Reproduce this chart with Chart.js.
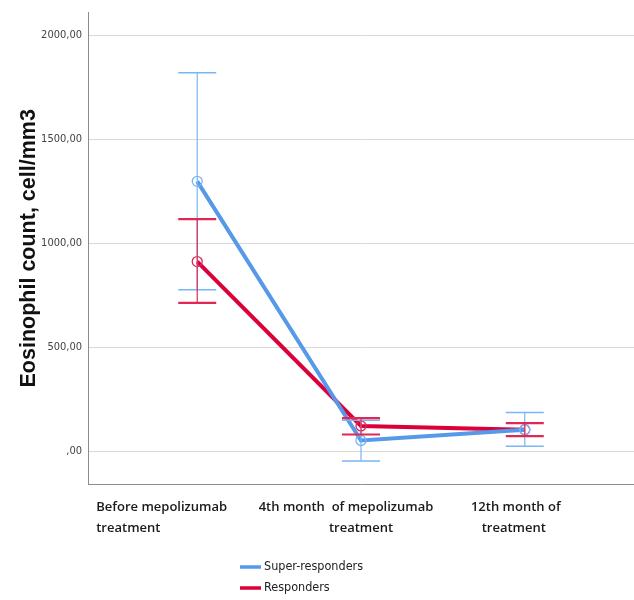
<!DOCTYPE html>
<html>
<head>
<meta charset="utf-8">
<script src="https://cdn.jsdelivr.net/npm/chart.js@4/dist/chart.umd.min.js"></script>
<style>
  html, body { margin: 0; padding: 0; background: #fff; }
  #wrap { position: relative; width: 634px; height: 600px; }
</style>
</head>
<body>
<div id="wrap"><canvas id="eosChart" width="634" height="600"></canvas></div>
<script>
// timepoints (x positions 0,1,2)
const timepoints = [
  ["Before mepolizumab", "treatment"],
  ["4th month  of mepolizumab", "treatment"],
  ["12th month of", "treatment"]
];

// super-responders: mean and error bar ends
const superMean = [1298, 52, 104];
const superHigh = [1820, 150, 187];
const superLow = [777, -47, 25];

// responders
const respMean = [912, 122, 104];
const respHigh = [1116, 160, 136];
const respLow = [714, 81, 73];

const yTicks = [0, 500, 1000, 1500, 2000];

const BLUE = "rgb(85,153,232)";
const BLUE_BAR = "rgb(120,182,245)";
const RED = "rgb(220,0,58)";
const RED_BAR = "rgb(225,40,85)";
const NARROW = "'DejaVu Sans Condensed', 'Liberation Sans Narrow', sans-serif";

function toPoints(arr) {
  return arr.map((v, i) => ({ x: i, y: v }));
}

// error bars with caps
const errorBars = {
  id: "errorBars",
  afterDatasetsDraw(chart) {
    const { ctx, scales: { x, y } } = chart;
    const sets = [
      { low: superLow, high: superHigh, color: BLUE_BAR, cap: 1.5 },
      { low: respLow, high: respHigh, color: RED_BAR, cap: 2.2 }
    ];
    ctx.save();
    sets.forEach(s => {
      ctx.strokeStyle = s.color;
      s.low.forEach((lo, i) => {
        const px = x.getPixelForValue(i);
        const yl = y.getPixelForValue(lo);
        const yh = y.getPixelForValue(s.high[i]);
        ctx.lineWidth = 1.2;
        ctx.beginPath();
        ctx.moveTo(px, yl);
        ctx.lineTo(px, yh);
        ctx.stroke();
        ctx.lineWidth = s.cap;
        ctx.beginPath();
        ctx.moveTo(px - 19, yl);
        ctx.lineTo(px + 19, yl);
        ctx.moveTo(px - 19, yh);
        ctx.lineTo(px + 19, yh);
        ctx.stroke();
      });
    });
    ctx.restore();
  }
};

// category labels under the plot, and stacked legend
const labelStyle = [
  { align: "left", dx: [-101, -101] },
  { align: "center", dx: [-15, 0] },
  { align: "center", dx: [-9, -11] }
];

const bottomText = {
  id: "bottomText",
  afterDraw(chart) {
    const { ctx, scales: { x }, chartArea } = chart;
    ctx.save();
    ctx.fillStyle = "#1a1a1a";
    ctx.font = "600 13px 'Open Sans', sans-serif";
    ctx.textBaseline = "middle";
    timepoints.forEach((lines, i) => {
      const px = x.getPixelForValue(i);
      lines.forEach((t, j) => {
        ctx.textAlign = labelStyle[i].align;
        ctx.fillText(t, px + labelStyle[i].dx[j], chartArea.bottom + 23 + j * 21);
      });
    });

    const items = [
      { text: "Super-responders", color: BLUE },
      { text: "Responders", color: RED }
    ];
    ctx.font = "12.5px " + NARROW;
    ctx.textAlign = "left";
    ctx.fillStyle = "#222";
    items.forEach((it, k) => {
      const yy = chartArea.bottom + 83 + k * 21;
      ctx.strokeStyle = it.color;
      ctx.lineWidth = 3.5;
      ctx.beginPath();
      ctx.moveTo(240, yy);
      ctx.lineTo(261, yy);
      ctx.stroke();
      ctx.fillText(it.text, 264, yy);
    });
    ctx.restore();
  }
};

new Chart(document.getElementById("eosChart"), {
  type: "line",
  data: {
    datasets: [
      {
        label: "Super-responders",
        data: toPoints(superMean),
        borderColor: BLUE,
        borderWidth: 4,
        pointRadius: 5,
        pointBorderWidth: 1.3,
        pointBackgroundColor: "rgba(0,0,0,0)",
        pointBorderColor: BLUE_BAR
      },
      {
        label: "Responders",
        data: toPoints(respMean),
        borderColor: RED,
        borderWidth: 4,
        pointRadius: 5,
        pointBorderWidth: 1.3,
        pointBackgroundColor: "rgba(0,0,0,0)",
        pointBorderColor: RED_BAR
      }
    ]
  },
  options: {
    responsive: false,
    animation: false,
    layout: { autoPadding: false, padding: { top: 7, right: 0, bottom: 0, left: 0 } },
    plugins: {
      legend: { display: false },
      tooltip: { enabled: false }
    },
    scales: {
      x: {
        type: "linear",
        min: -0.667,
        max: 2.667,
        grid: { display: false },
        border: { display: true, color: "#8c8c8c", width: 1 },
        ticks: { display: false },
        afterFit(scale) { scale.height = 116; }
      },
      y: {
        min: -157,
        max: 2109,
        afterBuildTicks(scale) {
          scale.ticks = yTicks.map(v => ({ value: v }));
        },
        grid: { color: "#d9d9d9", lineWidth: 1, drawTicks: false },
        border: { display: true, color: "#8c8c8c", width: 1 },
        ticks: {
          padding: 6,
          color: "#444",
          font: { family: NARROW, size: 11 },
          callback: v => (v === 0 ? ",00" : v + ",00")
        },
        title: {
          display: true,
          text: "Eosinophil count, cell/mm3",
          color: "#111",
          font: { family: "'Liberation Sans', Arial, sans-serif", size: 21.5, weight: "bold" },
          padding: { top: 16, bottom: 0 }
        },
        afterFit(scale) { scale.width = 88; }
      }
    }
  },
  plugins: [errorBars, bottomText]
});
</script>
</body>
</html>
